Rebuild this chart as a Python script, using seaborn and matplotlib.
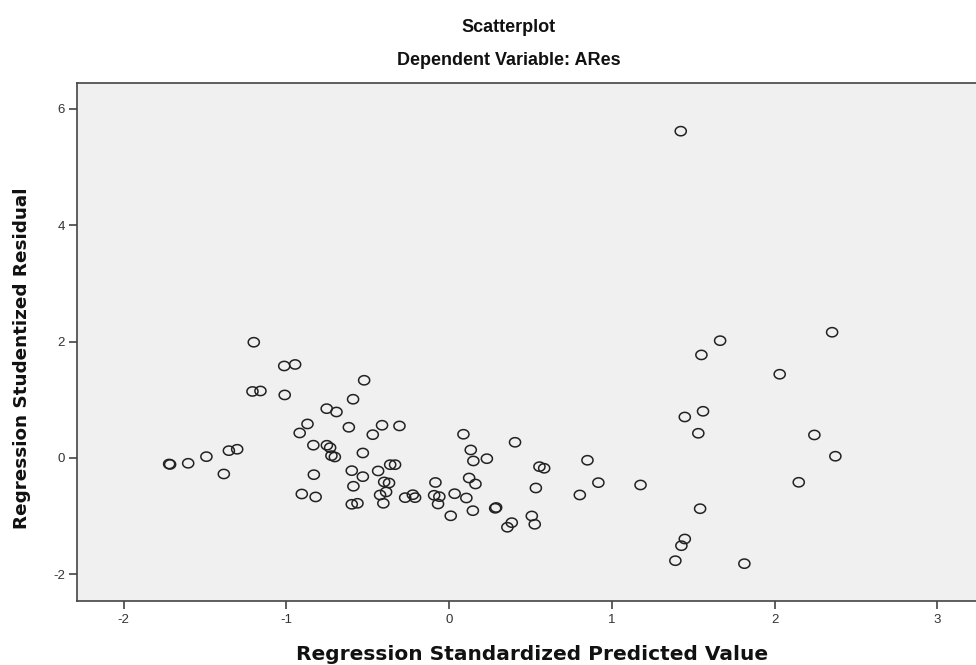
import matplotlib
matplotlib.use("Agg")
import matplotlib.pyplot as plt
from matplotlib.path import Path
import seaborn as sns
import pandas as pd
import numpy as np

title = "Scatterplot"
subtitle = "Dependent Variable: ARes"
xlabel = "Regression Standardized Predicted Value"
ylabel = "Regression Studentized Residual"

pred = [-1.200, -1.013, -0.946, -1.208, -1.159, -1.010, -0.752, -0.870, -0.918, -0.834,
        -0.751, -0.731, -0.723, -0.702, -1.720, -1.714, -1.603, -1.491, -1.353, -1.302,
        -1.384, -0.831, -0.905, -0.820, -0.522, -0.590, -0.692, -0.616, -0.412, -0.305,
        -0.469, -0.530, -0.598, -0.530, -0.436, -0.362, -0.332, -0.588, -0.399, -0.369,
        -0.387, -0.424, -0.404, -0.598, -0.563, -0.270, -0.223, -0.209, -0.084, -0.092,
        -0.060, -0.068, 0.034, 0.010, 0.088, 0.405, 0.133, 0.149, 0.232, 0.555,
        0.584, 0.850, 0.123, 0.162, 0.533, 0.917, 0.803, 1.176, 0.106, 0.146,
        0.283, 0.289, 0.508, 0.526, 0.358, 0.385, 1.423, 1.665, 1.550, 2.353,
        2.031, 1.560, 1.448, 1.531, 2.244, 1.542, 1.448, 1.427, 1.390, 1.814,
        2.148, 2.373]
resid = [1.988, 1.580, 1.606, 1.142, 1.150, 1.082, 0.846, 0.583, 0.428, 0.218,
         0.217, 0.175, 0.038, 0.015, -0.105, -0.113, -0.093, 0.021, 0.124, 0.148,
         -0.277, -0.289, -0.621, -0.672, 1.334, 1.008, 0.789, 0.526, 0.561, 0.549,
         0.399, 0.084, -0.220, -0.323, -0.225, -0.117, -0.117, -0.488, -0.414, -0.432,
         -0.586, -0.638, -0.781, -0.798, -0.781, -0.684, -0.633, -0.684, -0.423, -0.643,
         -0.667, -0.793, -0.616, -0.996, 0.406, 0.268, 0.136, -0.053, -0.014, -0.151,
         -0.179, -0.041, -0.346, -0.449, -0.518, -0.426, -0.638, -0.466, -0.690, -0.908,
         -0.867, -0.853, -0.999, -1.142, -1.193, -1.114, 5.617, 2.015, 1.770, 2.160,
         1.438, 0.801, 0.703, 0.423, 0.394, -0.874, -1.395, -1.510, -1.768, -1.819,
         -0.420, 0.028]

xticks = [-2, -1, 0, 1, 2, 3]
yticks = [-2, 0, 2, 4, 6]

df = pd.DataFrame({"pred": pred, "resid": resid})

sns.set_style("white")
plt.rcParams["font.family"] = ["Liberation Sans", "DejaVu Sans"]

# slightly wide ellipse marker (the reference is horizontally stretched)
t = np.linspace(0, 2 * np.pi, 41)
ellipse = Path(np.column_stack([1.2 * np.cos(t), np.sin(t)]), closed=True)

fig = plt.figure(figsize=(9.76, 6.65), dpi=100)
ax = fig.add_axes([0.0794, 0.0958, 1 - 0.0794, 0.8756 - 0.0958])
ax.set_facecolor("#F0F0F0")

sns.scatterplot(data=df, x="pred", y="resid", ax=ax, marker=ellipse, s=64,
                facecolors="none", edgecolor="#222222", linewidth=1.1)

ax.set_xlim(-2.283, 3.237)
ax.set_ylim(-2.466, 6.45)
ax.set_xticks(xticks)
ax.set_yticks(yticks)
ax.set_xticklabels([str(v) for v in xticks], fontsize=9.5, color="#333333")
ax.set_yticklabels([str(v) for v in yticks], fontsize=9.5, color="#333333")
ax.tick_params(axis="both", direction="out", length=6, width=1.2, color="#444444", pad=3,
               left=True, bottom=True)
for side in ["left", "bottom", "top"]:
    ax.spines[side].set_color("#444444")
    ax.spines[side].set_linewidth(1.2)
ax.spines["right"].set_visible(False)

ax.set_xlabel("")
ax.set_ylabel("")

cx = 509 / 976
fig.text(cx, 1 - 32 / 665, title, ha="center", va="baseline", fontsize=13,
         fontweight="bold", color="#111111")
fig.text(cx, 1 - 65 / 665, subtitle, ha="center", va="baseline", fontsize=13,
         fontweight="bold", color="#111111")
fig.text(532 / 976, 1 - 660 / 665, xlabel, ha="center", va="baseline", fontsize=14.5,
         fontweight="bold", color="#111111", family=["DejaVu Sans"])
fig.text(22 / 976, 1 - 358 / 665, ylabel, ha="center", va="center", rotation=90,
         fontsize=13.2, fontweight="bold", color="#111111", family=["DejaVu Sans"])

fig.savefig("out.png", dpi=100)
